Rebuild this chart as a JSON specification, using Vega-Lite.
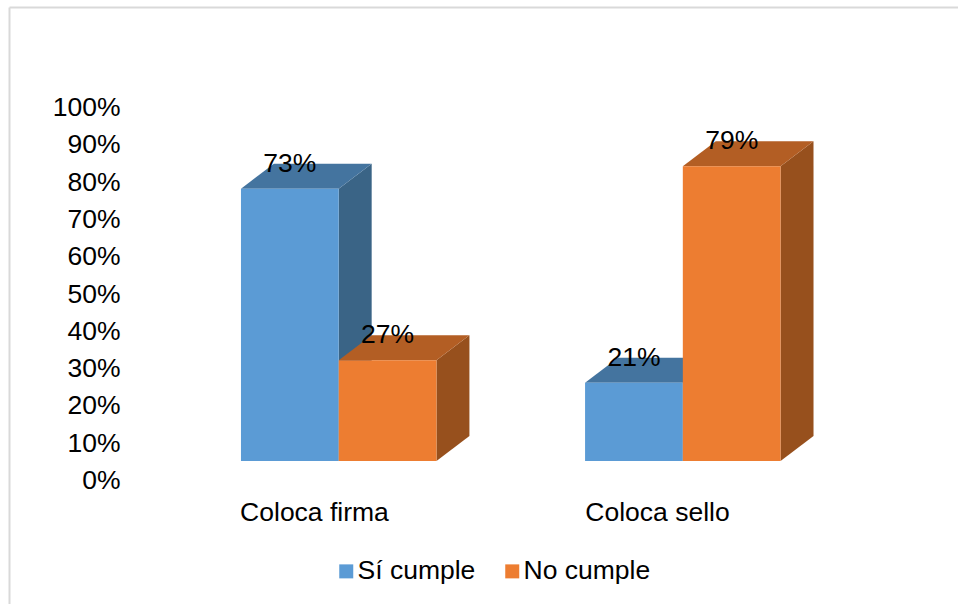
{
  "$schema": "https://vega.github.io/schema/vega-lite/v6.json",
  "width": 949,
  "height": 597,
  "padding": {"left": 9, "top": 7, "right": 0, "bottom": 0},
  "autosize": {"type": "none"},
  "background": "white",
  "config": {
    "font": "Liberation Sans",
    "view": {"stroke": null},
    "axis": {"grid": false, "title": null}
  },
  "data": {
    "values": [
      {"group": "Coloca firma", "series": "Sí cumple", "value": 0.73},
      {"group": "Coloca firma", "series": "No cumple", "value": 0.27},
      {"group": "Coloca sello", "series": "Sí cumple", "value": 0.21},
      {"group": "Coloca sello", "series": "No cumple", "value": 0.79}
    ]
  },
  "transform": [
    {"calculate": "(datum.group === 'Coloca firma' ? 0 : 3.52) + (datum.series === 'Sí cumple' ? 0 : 1)", "as": "left"},
    {"calculate": "datum.left + 1", "as": "right"},
    {"calculate": "datum.left + 0.5", "as": "center"},
    {"calculate": "datum.value + 0.067", "as": "labelY"}
  ],
  "layer": [
    {
      "transform": [
        {"calculate": "[0, 1]", "as": "t"},
        {"flatten": ["t"]},
        {"calculate": "datum.right + datum.t * 0.337", "as": "sx"},
        {"calculate": "datum.t * 0.067", "as": "sLow"},
        {"calculate": "datum.value + datum.t * 0.067", "as": "sHigh"}
      ],
      "mark": {"type": "area", "orient": "vertical", "interpolate": "linear"},
      "encoding": {
        "x": {
          "field": "sx", "type": "quantitative",
          "scale": {"domain": [-2.373, 7.335], "nice": false, "zero": false},
          "axis": {"orient": "top", "values": [], "labels": false, "ticks": false, "domain": true, "domainColor": "#d9d9d9", "domainWidth": 2}
        },
        "y": {
          "field": "sLow", "type": "quantitative",
          "scale": {"domain": [-0.3834, 1.2172], "nice": false, "zero": false},
          "axis": {"orient": "left", "values": [], "labels": false, "ticks": false, "domain": true, "domainColor": "#d9d9d9", "domainWidth": 2}
        },
        "y2": {"field": "sHigh"},
        "detail": {"field": "group"},
        "color": {
          "field": "series", "type": "nominal", "legend": null,
          "scale": {"domain": ["Sí cumple", "No cumple"], "range": ["#3a6486", "#97501d"]}
        }
      }
    },
    {
      "transform": [
        {"calculate": "[0, 1]", "as": "t"},
        {"flatten": ["t"]},
        {"calculate": "datum.left + datum.t * 0.337", "as": "tx"},
        {"calculate": "datum.right + datum.t * 0.337", "as": "tx2"},
        {"calculate": "datum.value + datum.t * 0.067", "as": "ty"}
      ],
      "mark": {"type": "area", "orient": "horizontal", "interpolate": "linear"},
      "encoding": {
        "x": {"field": "tx", "type": "quantitative", "axis": null},
        "x2": {"field": "tx2"},
        "y": {"field": "ty", "type": "quantitative", "axis": null},
        "detail": {"field": "group"},
        "color": {
          "field": "series", "type": "nominal", "legend": null,
          "scale": {"domain": ["Sí cumple", "No cumple"], "range": ["#44749f", "#b35e24"]}
        }
      }
    },
    {
      "mark": {"type": "rect"},
      "encoding": {
        "x": {
          "field": "left", "type": "quantitative",
          "axis": {
            "orient": "bottom", "offset": -105, "values": [0.747, 4.256],
            "labelExpr": "datum.value < 2 ? 'Coloca firma' : 'Coloca sello'",
            "domain": false, "ticks": false, "labelPadding": 0,
            "labelFontSize": 26.5, "labelColor": "#000000", "labelFlush": false, "labelOverlap": false
          }
        },
        "x2": {"field": "right"},
        "y": {
          "field": "value", "type": "quantitative",
          "axis": {
            "orient": "left", "offset": -111, "values": [0, 0.1, 0.2, 0.3, 0.4, 0.5, 0.6, 0.7, 0.8, 0.9, 1],
            "format": ".0%", "labelOffset": 19.5, "domain": false, "ticks": false, "labelPadding": 0,
            "labelFontSize": 26.5, "labelColor": "#000000", "labelOverlap": false
          }
        },
        "y2": {"datum": 0},
        "color": {
          "field": "series", "type": "nominal",
          "scale": {"domain": ["Sí cumple", "No cumple"], "range": ["#5b9bd5", "#ed7d31"]},
          "legend": {
            "orient": "none", "direction": "horizontal", "title": null,
            "legendX": 324, "legendY": 551,
            "symbolType": "square", "symbolSize": 196, "symbolStrokeWidth": 0,
            "labelFontSize": 26.5, "labelColor": "#000000", "labelOffset": -2, "columnPadding": 23
          }
        }
      }
    },
    {
      "mark": {"type": "text", "fontSize": 26.5, "color": "#000000", "baseline": "middle", "align": "center"},
      "encoding": {
        "x": {"field": "center", "type": "quantitative", "axis": null},
        "y": {"field": "labelY", "type": "quantitative", "axis": null},
        "text": {"field": "value", "type": "quantitative", "format": ".0%"}
      }
    }
  ],
  "resolve": {
    "scale": {"color": "independent"},
    "axis": {"x": "independent", "y": "independent"}
  }
}
